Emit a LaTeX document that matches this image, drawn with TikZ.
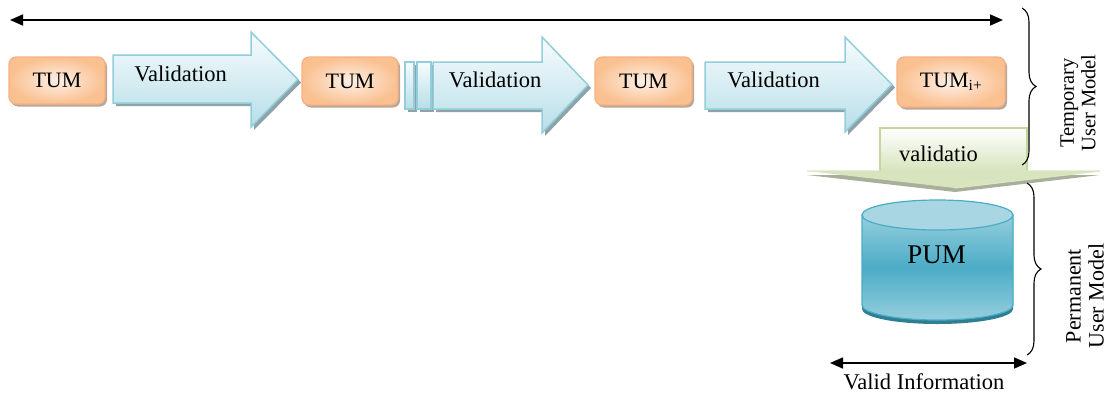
\documentclass[tikz,border=0pt]{standalone}
\usepackage{fontspec}
\setmainfont{Liberation Serif}
\usetikzlibrary{arrows.meta,decorations.pathreplacing,shadings,shadows}

\definecolor{tumedge}{HTML}{F6B183}
\definecolor{tumout}{HTML}{FAC090}
\definecolor{tumin}{HTML}{FDF0E6}
\definecolor{tumshadow}{HTML}{B9A797}
\definecolor{arrowedge}{HTML}{92CDDC}
\definecolor{arrowtop}{HTML}{F7FCFD}
\definecolor{arrowbot}{HTML}{B7DEE8}
\definecolor{arrowshadow}{HTML}{8FA2A7}
\definecolor{greenedge}{HTML}{C3D69B}
\definecolor{greenfill}{HTML}{D7E4BD}
\definecolor{greenshadow}{HTML}{A8B09C}
\definecolor{cylmid}{HTML}{4BACC6}
\definecolor{cyllight}{HTML}{95CEDD}
\definecolor{cyltop}{HTML}{A8D6E3}
\definecolor{cyldark}{HTML}{2F7F93}

% right-pointing block arrow: x0, shaft top, shaft bottom, head x, head top, head bottom, tip x
\newcommand\rblockpath[7]{(#1,#2) -- (#4,#2) -- (#4,#5) -- (#7,{(#5+#6)/2}) -- (#4,#6) -- (#4,#3) -- (#1,#3) -- cycle}

\tikzset{
  txt/.style={inner sep=0pt, font=\fontsize{22.5}{26}\selectfont},
  tumbox/.style={draw=tumedge, line width=1.2pt, rounded corners=7pt,
    inner color=tumin, outer color=tumout, inner sep=0pt,
    font=\fontsize{22}{26}\selectfont,
    drop shadow={shadow xshift=2pt, shadow yshift=-2.5pt, fill=tumshadow, opacity=1}},
  blockarrow/.style={draw=arrowedge, line width=1.5pt, line join=miter,
    top color=arrowtop, bottom color=arrowbot},
  arrowshade/.style={fill=arrowshadow},
  dimarrow/.style={line width=1.6pt,
    {Triangle[length=13pt,width=11pt]}-{Triangle[length=13pt,width=11pt]}},
  bracedeco/.style={decorate, decoration={brace, amplitude=14pt}, line width=1.1pt},
}

\begin{document}
\begin{tikzpicture}[x=1pt,y=-1pt]
\useasboundingbox (0,0) rectangle (1108,394);

% time line
\coordinate (tl) at (10,20);
\coordinate (tr) at (1003,20);
\draw[dimarrow] (tl) -- (tr);

% temporary user models
\node[tumbox, minimum width=96pt, minimum height=47pt] (tum1) at (57,80.5) {TUM};
\node[tumbox, minimum width=96pt, minimum height=48pt] (tum2) at (350,81) {TUM};
\node[tumbox, minimum width=97pt, minimum height=48pt] (tum3) at (643.5,81) {TUM};
\node[tumbox, minimum width=108pt, minimum height=50pt] (tum4) at (951,82) {TUM\textsubscript{i+}};

% validation block arrows (shadows first)
\fill[arrowshade, shift={(3,3)}] \rblockpath{113}{55}{103}{251}{32}{127}{298};
\path[blockarrow] \rblockpath{113}{55}{103}{251}{32}{127}{298};

\fill[arrowshade, shift={(3,3)}] (405,62) rectangle (414,109);
\fill[arrowshade, shift={(3,3)}] (417,62) rectangle (431,109);
\path[blockarrow] (405,62) rectangle (414,109);
\path[blockarrow] (417,62) rectangle (431,109);

\fill[arrowshade, shift={(3,3)}] \rblockpath{433}{62}{109}{542}{37}{133}{588};
\path[blockarrow] \rblockpath{433}{62}{109}{542}{37}{133}{588};

\fill[arrowshade, shift={(3,3)}] \rblockpath{705}{62}{109}{845}{37}{132}{892};
\path[blockarrow] \rblockpath{705}{62}{109}{845}{37}{132}{892};

\node[txt] (val1) at (180.5,74) {Validation};
\node[txt] (val2) at (495,80) {Validation};
\node[txt] (val3) at (773.5,80) {Validation};

% downward validation arrow into the permanent model
\fill[greenshadow] (807,175) -- (1100,175) -- (955,192) -- cycle;
\path[top color=white, bottom color=greenfill] (880,128) rectangle (1027,171);
\fill[greenfill] (807,171) -- (1100,171) -- (955,188) -- cycle;
\draw[greenedge, line width=1.5pt, line join=miter]
  (880,171) -- (880,128) -- (1027,128) -- (1027,171);
\draw[greenedge!60!white, line width=1.2pt, line join=miter]
  (807,171) -- (880,171) (1027,171) -- (1100,171) -- (955,188) -- cycle;
\node[txt] (valdown) at (938.5,153.5) {validatio};

% permanent user model store
\fill[cyldark] (862,219) -- (862,309) arc[start angle=180, end angle=0, x radius=75.5, y radius=15] -- (1013,219) -- cycle;
\path[top color=cyllight, bottom color=cyllight, middle color=cylmid, draw=cylmid, line width=1.2pt]
  (862,215) -- (862,305) arc[start angle=180, end angle=0, x radius=75.5, y radius=15] -- (1013,215) -- cycle;
\path[fill=cyltop, draw=cylmid, line width=1.2pt] (937.5,215) ellipse[x radius=75.5, y radius=15];
\node[inner sep=0pt, font=\fontsize{27}{30}\selectfont] (pum) at (936.5,254.5) {PUM};

% range markers
\coordinate (vl) at (830,363);
\coordinate (vr) at (1027,363);
\draw[dimarrow] (vl) -- (vr);
\node[txt] (validinfo) at (924,382) {Valid Information};

\draw[bracedeco] (1022,8) -- (1022,165);
\draw[bracedeco] (1027,183) -- (1027,355);

\node[rotate=90, align=center, inner sep=0pt, font=\fontsize{20.5}{21.5}\selectfont] (tumlabel) at (1078,103) {Temporary\\User Model};
\node[rotate=90, align=center, inner sep=0pt, font=\fontsize{22}{23}\selectfont] (pumlabel) at (1085,296) {Permanent\\User Model};
\end{tikzpicture}
\end{document}
